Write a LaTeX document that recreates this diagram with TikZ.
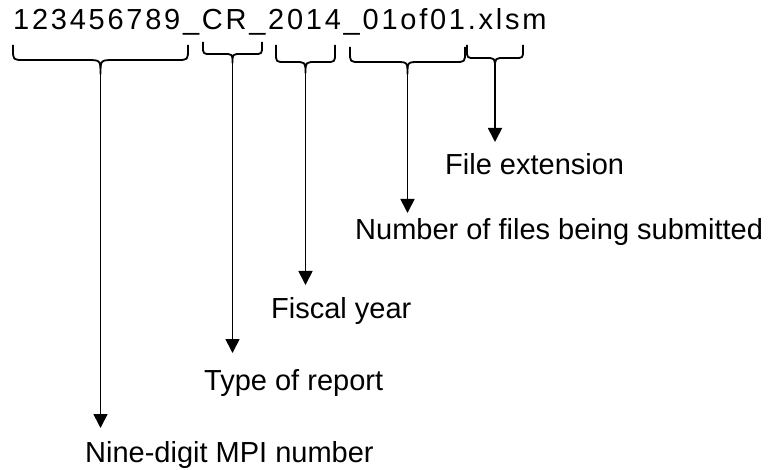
\documentclass[tikz,border=0pt]{standalone}
\usepackage{fontspec}
\setmainfont{Liberation Sans}
\newfontfamily\titlefont[LetterSpace=9.5]{Liberation Sans}
\usetikzlibrary{arrows.meta}
% #1 x left, #2 x right, #3 y of ends, #4 y of horizontal, #5 end radius, #6 middle radius
\newcommand\curlyb[6]{%
  \draw[bracestyle] (#1,#3) -- (#1,{#4-#5}) .. controls (#1,#4) .. ({#1+#5},#4)
    -- ({(#1+#2)/2-#6},#4) .. controls ({(#1+#2)/2},#4) .. ({(#1+#2)/2},{#4+#6})
    .. controls ({(#1+#2)/2},#4) .. ({(#1+#2)/2+#6},#4)
    -- ({#2-#5},#4) .. controls (#2,#4) .. (#2,{#4-#5}) -- (#2,#3);}
\begin{document}
\begin{tikzpicture}[x=1pt,y=-1pt,
  lbl/.style={anchor=base west,inner sep=0pt,font=\fontsize{29}{34}\selectfont},
  bracestyle/.style={line width=1.8pt,line join=round},
  arr/.style={-{Triangle[width=14pt,length=14pt]},line width=1.7pt}]
\useasboundingbox (0,0) rectangle (768,470);
\node[anchor=base west,inner sep=0pt,font=\titlefont\fontsize{29}{34}\selectfont] (title) at (13,30) {123456789\_CR\_2014\_01of01.xlsm};

% braces
\curlyb{13}{188}{45}{60}{11}{14}
\curlyb{203}{262}{42}{54}{8}{9}
\curlyb{276}{335}{45}{62}{9}{11}
\curlyb{350}{465}{47}{62}{10}{12}
\curlyb{467}{523}{45}{58}{8}{10}

% brace tips
\coordinate (t1) at (100.5,74);
\coordinate (t2) at (232.5,63);
\coordinate (t3) at (305.5,73);
\coordinate (t4) at (407.5,74);
\coordinate (t5) at (495,68);

% labels
\node[lbl] (l1) at (85,462) {Nine-digit MPI number};
\node[lbl] (l2) at (204,390) {Type of report};
\node[lbl] (l3) at (271,318) {Fiscal year};
\node[lbl] (l4) at (355,240) {Number of files being submitted};
\node[lbl] (l5) at (445,175) {File extension};

% arrow ends
\coordinate (e1) at (100.5,428);
\coordinate (e2) at (232.5,353);
\coordinate (e3) at (305.5,285);
\coordinate (e4) at (407.5,213);
\coordinate (e5) at (495,142);

\draw[arr] (t1) -- (e1);
\draw[arr] (t2) -- (e2);
\draw[arr] (t3) -- (e3);
\draw[arr] (t4) -- (e4);
\draw[arr] (t5) -- (e5);
\end{tikzpicture}
\end{document}
